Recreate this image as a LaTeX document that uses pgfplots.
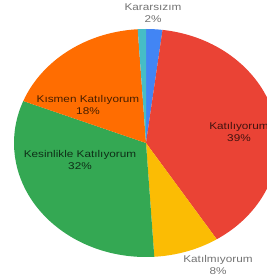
\documentclass[border=0pt]{standalone}
\usepackage{pgfplots}
\pgfplotsset{compat=1.18}
\usepackage{fontspec}
\setmainfont{Liberation Sans}
\definecolor{gblue}{HTML}{4285F4}
\definecolor{gred}{HTML}{EA4335}
\definecolor{gyellow}{HTML}{FBBC04}
\definecolor{ggreen}{HTML}{34A853}
\definecolor{gorange}{HTML}{FF6D01}
\definecolor{gteal}{HTML}{46BDC6}
\newcommand{\lbl}[1]{\scalebox{1.2}[1]{\fontsize{9.8}{12}\selectfont\begin{tabular}{@{}c@{}}#1\end{tabular}}}
\begin{document}
\begin{tikzpicture}
\fill[white] (0,0) rectangle (267pt,279pt);
\begin{axis}[
  at={(146pt,136pt)}, anchor=center,
  hide axis, scale only axis,
  width=264pt, height=228pt,
  xmin=-1, xmax=1, ymin=-1, ymax=1,
  clip=false,
]
\addplot[draw=none] coordinates {(0,0)};
\pgfplotsextra{
  \gdef\cum{0}
  \foreach \v/\c in {2/gblue,39/gred,8/gyellow,32/ggreen,18/gorange,1/gteal}{
    \pgfmathsetmacro\a{90-3.6*\cum}
    \pgfmathsetmacro\b{90-3.6*(\cum+\v)}
    \pgfmathsetmacro\ca{cos(\a)}
    \pgfmathsetmacro\sa{sin(\a)}
    \fill[\c] (axis cs:0,0) -- (axis cs:\ca,\sa) arc[start angle=\a, end angle=\b, x radius=132pt, y radius=114pt] -- cycle;
    \pgfmathsetmacro\newcum{\cum+\v}
    \xdef\cum{\newcum}
  }
}
\end{axis}
\node[text=black!55] at (153pt,265pt) {\lbl{Kararsızım\\2\%}};
\node[text=black, text opacity=0.72] at (88pt,173pt) {\lbl{Kısmen Katılıyorum\\18\%}};
\node[text=black, text opacity=0.72] at (80pt,118pt) {\lbl{Kesinlikle Katılıyorum\\32\%}};
\node[text=black, text opacity=0.72] at (239pt,145.5pt) {\lbl{Katılıyorum\\39\%}};
\node[text=black!55] at (218pt,12.5pt) {\lbl{Katılmıyorum\\8\%}};
\pgfresetboundingbox
\useasboundingbox (0,0) rectangle (267pt,279pt);
\end{tikzpicture}
\end{document}
